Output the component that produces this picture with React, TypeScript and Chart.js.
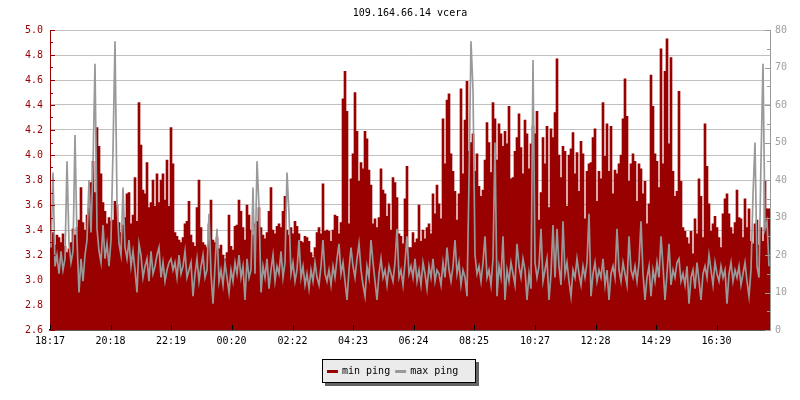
import React, { useEffect, useRef } from "react";
import { Chart, registerables } from "chart.js";

Chart.register(...registerables);

const CHART_TITLE = "109.164.66.14 vcera";
const SERIES_NAMES = ["min ping", "max ping"];
const X_TICK_LABELS = ["18:17", "20:18", "22:19", "00:20", "02:22", "04:23", "06:24", "08:25", "10:27", "12:28", "14:29", "16:30"];
const X_TICK_MINUTES = [0, 121, 242, 363, 485, 606, 727, 848, 970, 1091, 1212, 1333];
const SAMPLE_MINUTES = 4;
const LEFT_MIN = 2.6;
const LEFT_MAX = 5.0;
const LEFT_STEP = 0.2;
const RIGHT_MIN = 0;
const RIGHT_MAX = 80;
const RIGHT_STEP = 10;

// min ping (ms, left axis), one value per 4-minute sample
const MIN_PING = [
  3.31, 3.38, 3.28, 3.36, 3.34, 3.30, 3.37, 3.27, 3.22, 3.25, 3.30, 3.41, 3.36, 3.42, 3.48, 3.74, 3.46, 3.40, 3.52, 3.58,
  3.78, 3.95, 3.70, 4.22, 4.07, 3.85, 3.62, 3.55, 3.45, 3.50, 3.47, 3.48, 3.63, 3.60, 3.46, 3.38, 3.44, 3.50, 3.69, 3.70,
  3.45, 3.52, 3.82, 3.47, 4.42, 4.08, 3.72, 3.69, 3.94, 3.58, 3.62, 3.80, 3.59, 3.85, 3.62, 3.80, 3.85, 3.64, 3.96, 3.59,
  4.22, 3.93, 3.38, 3.35, 3.32, 3.30, 3.34, 3.45, 3.47, 3.63, 3.36, 3.30, 3.27, 3.58, 3.80, 3.42, 3.30, 3.28, 3.26, 3.45,
  3.64, 3.32, 3.30, 3.34, 3.25, 3.28, 3.20, 3.17, 3.22, 3.52, 3.27, 3.24, 3.43, 3.44, 3.64, 3.55, 3.42, 3.32, 3.60, 3.52,
  3.40, 3.36, 3.45, 3.47, 3.58, 3.42, 3.36, 3.33, 3.38, 3.55, 3.74, 3.40, 3.37, 3.43, 3.45, 3.42, 3.55, 3.67, 3.40, 3.36,
  3.42, 3.37, 3.47, 3.43, 3.37, 3.31, 3.30, 3.35, 3.34, 3.31, 3.22, 3.18, 3.26, 3.38, 3.42, 3.37, 3.77, 3.39, 3.40, 3.39,
  3.31, 3.40, 3.52, 3.51, 3.37, 3.46, 4.45, 4.67, 4.35, 3.45, 3.81, 4.01, 4.50, 4.19, 3.79, 3.94, 3.89, 4.19, 4.13, 3.88,
  3.76, 3.45, 3.49, 3.42, 3.50, 3.89, 3.72, 3.69, 3.51, 3.61, 3.40, 3.82, 3.78, 3.66, 3.37, 3.35, 3.29, 3.65, 3.91, 3.26,
  3.26, 3.38, 3.30, 3.33, 3.60, 3.31, 3.40, 3.33, 3.42, 3.45, 3.37, 3.69, 3.53, 3.76, 3.61, 3.49, 4.29, 3.93, 4.44, 4.49,
  4.01, 3.87, 3.71, 3.48, 3.69, 4.53, 3.85, 4.28, 4.59, 4.03, 4.10, 4.17, 3.87, 4.01, 3.75, 3.67, 3.72, 3.96, 4.26, 4.10,
  3.86, 4.42, 4.29, 3.96, 4.25, 4.17, 4.07, 4.19, 4.09, 4.39, 3.81, 3.82, 4.03, 4.14, 4.33, 4.06, 3.85, 4.28, 4.17, 3.89,
  4.09, 4.23, 4.17, 4.35, 3.48, 3.70, 4.14, 3.93, 4.23, 3.58, 4.21, 4.14, 4.34, 4.77, 4.00, 3.82, 4.07, 4.03, 3.59, 4.00,
  4.05, 4.18, 3.85, 4.02, 3.71, 4.11, 4.01, 3.49, 3.87, 3.93, 3.94, 4.14, 4.21, 3.63, 3.87, 3.81, 4.42, 3.99, 4.25, 3.87,
  4.23, 3.69, 3.88, 3.85, 3.93, 4.00, 4.29, 4.61, 4.31, 3.79, 3.93, 4.01, 3.95, 3.63, 3.93, 3.89, 3.69, 3.79, 3.45, 3.61,
  4.64, 4.39, 4.01, 3.95, 3.74, 4.85, 3.93, 4.67, 4.93, 4.09, 4.78, 3.87, 3.67, 3.71, 4.51, 3.79, 3.42, 3.39, 3.34, 3.29,
  3.39, 3.21, 3.49, 3.37, 3.81, 3.67, 3.34, 4.25, 3.91, 3.61, 3.39, 3.45, 3.51, 3.42, 3.34, 3.26, 3.53, 3.65, 3.69, 3.53,
  3.42, 3.37, 3.46, 3.72, 3.50, 3.49, 3.34, 3.65, 3.42, 3.57, 3.31, 3.29, 3.45, 3.48, 3.28, 3.42, 3.31, 3.79, 3.57, 3.57,
];

// max ping (ms, right axis)
const MAX_PING = [
  22, 42, 17, 20, 15, 21, 16, 19, 45, 23, 18, 21, 52, 24, 10, 19, 13, 20, 24, 40,
  26, 44, 71, 27, 21, 18, 28, 19, 23, 17, 24, 48, 77, 34, 23, 20, 38, 22, 19, 24,
  17, 21, 16, 10, 23, 20, 14, 17, 19, 13, 21, 15, 17, 20, 22, 14, 18, 13, 16, 18,
  19, 16, 18, 14, 20, 15, 17, 21, 14, 16, 18, 9, 15, 19, 13, 17, 20, 14, 16, 31,
  15, 7, 17, 27, 13, 16, 12, 18, 14, 10, 16, 13, 18, 15, 20, 14, 17, 8, 19, 14,
  16, 38, 15, 45, 33, 10, 17, 14, 19, 11, 16, 20, 13, 17, 15, 21, 14, 18, 42, 31,
  15, 18, 13, 16, 24, 14, 17, 12, 15, 11, 16, 13, 18, 14, 12, 17, 24, 15, 13, 16,
  12, 17, 14, 19, 23, 15, 18, 13, 8, 16, 22, 17, 14, 19, 23, 16, 12, 9, 17, 14,
  24, 18, 13, 8, 15, 19, 14, 16, 12, 17, 15, 13, 18, 27, 14, 16, 12, 18, 25, 15,
  17, 14, 19, 13, 16, 12, 18, 15, 11, 17, 14, 19, 13, 16, 15, 12, 18, 14, 22, 16,
  13, 17, 24, 15, 18, 12, 16, 14, 9, 40, 77, 64, 20, 15, 17, 13, 18, 25, 14, 16,
  12, 19, 50, 9, 17, 14, 25, 8, 16, 13, 18, 15, 12, 23, 17, 14, 19, 16, 8, 15,
  11, 72, 18, 14, 17, 27, 13, 16, 19, 8, 15, 28, 14, 27, 17, 12, 29, 15, 18, 13,
  9, 16, 14, 19, 15, 12, 17, 14, 18, 31, 9, 15, 18, 13, 16, 14, 19, 12, 16, 8,
  15, 17, 14, 27, 16, 13, 18, 15, 12, 25, 16, 14, 17, 13, 18, 29, 15, 8, 14, 17,
  9, 16, 13, 18, 14, 25, 17, 8, 15, 23, 12, 16, 14, 18, 19, 13, 15, 12, 17, 7,
  14, 16, 11, 18, 13, 8, 15, 17, 14, 20, 16, 12, 18, 15, 13, 17, 14, 16, 7, 15,
  18, 13, 16, 14, 17, 12, 15, 18, 13, 9, 16, 36, 50, 17, 14, 45, 71, 27, 29, 17,
];

const RED = "#990000";
const GRAY = "#999999";
const GRID = "#c0c0c0";
const FONT_FAMILY = '"DejaVu Sans Mono", "Liberation Mono", monospace';
const FONT_SIZE = 10;

const decorPlugin = {
  id: "decor",
  afterDraw(chart: any) {
    const { ctx, chartArea: a } = chart;
    const ys = chart.scales.y;
    const y1s = chart.scales.y1;
    const xs = chart.scales.x;
    ctx.save();
    ctx.lineWidth = 1;
    const hline = (x0: number, x1: number, yy: number, color: string) => {
      ctx.strokeStyle = color;
      ctx.beginPath();
      ctx.moveTo(x0, yy);
      ctx.lineTo(x1, yy);
      ctx.stroke();
    };
    // inward ticks, left axis (major + minor)
    const nLeft = Math.round((LEFT_MAX - LEFT_MIN) / (LEFT_STEP / 2));
    for (let k = 0; k <= nLeft; k++) {
      const py = Math.round(ys.getPixelForValue(LEFT_MIN + (k * LEFT_STEP) / 2)) + 0.5;
      hline(a.left, a.left + (k % 2 === 0 ? 5 : 3), py, RED);
    }
    // inward ticks, right axis
    const nRight = Math.round((RIGHT_MAX - RIGHT_MIN) / (RIGHT_STEP / 2));
    for (let k = 0; k <= nRight; k++) {
      const py = Math.round(y1s.getPixelForValue(RIGHT_MIN + (k * RIGHT_STEP) / 2)) + 0.5;
      hline(a.right - (k % 2 === 0 ? 5 : 3), a.right, py, GRAY);
    }
    // inward ticks, x axis
    ctx.strokeStyle = "#000";
    X_TICK_MINUTES.forEach((m) => {
      const px = Math.round(xs.getPixelForValue(m / SAMPLE_MINUTES - 0.5)) + 0.5;
      ctx.beginPath();
      ctx.moveTo(px, a.bottom);
      ctx.lineTo(px, a.bottom - 5);
      ctx.stroke();
    });

    // legend box
    const items = [
      { text: SERIES_NAMES[0], color: RED },
      { text: SERIES_NAMES[1], color: GRAY },
    ];
    ctx.font = `${FONT_SIZE}px ${FONT_FAMILY}`;
    const sw = 11, gapT = 4, gapI = 5, padL = 5, padR = 18, h = 24;
    let w = padL + padR;
    items.forEach((it, i) => {
      w += sw + gapT + ctx.measureText(it.text).width + (i < items.length - 1 ? gapI : 0);
    });
    w = Math.round(w);
    const bx = Math.round((chart.width - w) / 2) - 1;
    const by = Math.round(a.bottom + 29);
    ctx.fillStyle = "#646464";
    ctx.fillRect(bx + 3, by + 3, w, h);
    ctx.fillStyle = "#ebebeb";
    ctx.fillRect(bx, by, w, h);
    ctx.strokeStyle = "#000";
    ctx.strokeRect(bx + 0.5, by + 0.5, w - 1, h - 1);
    let cx = bx + padL;
    const cy = by + h / 2;
    ctx.textBaseline = "middle";
    ctx.textAlign = "left";
    items.forEach((it) => {
      ctx.fillStyle = it.color;
      ctx.fillRect(cx, Math.round(cy) - 1, sw, 3);
      cx += sw + gapT;
      ctx.fillStyle = "#000";
      ctx.fillText(it.text, cx, cy);
      cx += ctx.measureText(it.text).width + gapI;
    });
    ctx.restore();
  },
};

export default function App() {
  const canvasRef = useRef<HTMLCanvasElement | null>(null);

  useEffect(() => {
    document.body.style.margin = "0";
    const canvas = canvasRef.current;
    if (!canvas) return;
    const font = { family: FONT_FAMILY, size: FONT_SIZE, weight: "normal" as const };
    const labels = MIN_PING.map((_, i) => String(i));
    const chart = new Chart(canvas, {
      type: "bar",
      data: {
        labels,
        datasets: [
          {
            type: "line",
            label: SERIES_NAMES[1],
            data: MAX_PING,
            yAxisID: "y1",
            borderColor: GRAY,
            backgroundColor: GRAY,
            borderWidth: 1.7,
            pointRadius: 0,
            tension: 0,
            fill: false,
            order: 1,
          } as any,
          {
            type: "bar",
            label: SERIES_NAMES[0],
            data: MIN_PING,
            yAxisID: "y",
            backgroundColor: RED,
            borderWidth: 0,
            barPercentage: 1,
            categoryPercentage: 1,
            order: 2,
          } as any,
        ],
      },
      options: {
        responsive: false,
        animation: false,
        devicePixelRatio: 1,
        layout: { padding: 0 },
        plugins: {
          legend: { display: false },
          tooltip: { enabled: false },
          title: {
            display: true,
            text: CHART_TITLE,
            color: "#000",
            font,
            fullSize: false,
            padding: { top: 7, bottom: 11 },
          },
        },
        scales: {
          x: {
            type: "category",
            offset: true,
            grid: { drawOnChartArea: false, drawTicks: false },
            border: { display: true, color: "#000", width: 1.5 },
            ticks: {
              autoSkip: false,
              maxRotation: 0,
              minRotation: 0,
              color: "#000",
              font,
              padding: 5,
              callback: (_v: any, i: number) => X_TICK_LABELS[i],
            },
            afterBuildTicks: (scale: any) => {
              scale.ticks = X_TICK_MINUTES.map((m) => ({ value: m / SAMPLE_MINUTES - 0.5 }));
            },
            afterFit: (scale: any) => {
              scale.height = 70;
            },
          },
          y: {
            type: "linear",
            position: "left",
            min: LEFT_MIN,
            max: LEFT_MAX,
            grid: { color: GRID, lineWidth: 1, drawTicks: false },
            border: { display: true, color: RED, width: 1 },
            ticks: {
              stepSize: LEFT_STEP,
              color: RED,
              font,
              padding: 7,
              callback: (v: any) => Number(v).toFixed(1),
            },
            afterFit: (scale: any) => {
              scale.width = 50;
            },
          },
          y1: {
            type: "linear",
            position: "right",
            min: RIGHT_MIN,
            max: RIGHT_MAX,
            grid: { drawOnChartArea: false, drawTicks: false },
            border: { display: true, color: GRAY, width: 1 },
            ticks: {
              stepSize: RIGHT_STEP,
              color: "#a0a0a0",
              font,
              padding: 5,
            },
            afterFit: (scale: any) => {
              scale.width = 30;
            },
          },
        },
      } as any,
      plugins: [decorPlugin],
    });
    return () => chart.destroy();
  }, []);

  return (
    <div style={{ width: 800, height: 400, background: "#fff" }}>
      <canvas ref={canvasRef} width={800} height={400} style={{ display: "block" }} />
    </div>
  );
}
